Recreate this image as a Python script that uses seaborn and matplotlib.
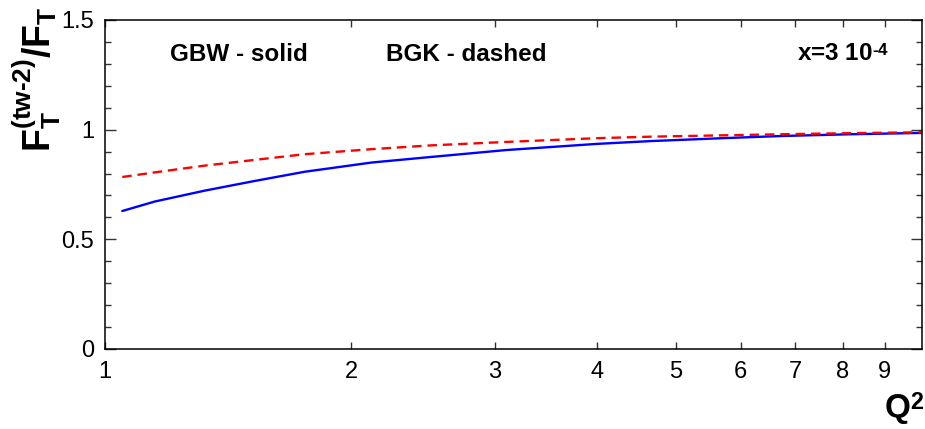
import numpy as np
import pandas as pd
import seaborn as sns
import matplotlib.pyplot as plt
import matplotlib._mathtext as mathtext
from matplotlib.ticker import FixedLocator, MultipleLocator, NullFormatter

# values
q2 = [1.05, 1.15, 1.325, 1.525, 1.756, 2.12, 2.5, 3.1, 4.0, 4.67, 5.7, 6.74, 8.2, 10.0]
gbw = [0.629, 0.672, 0.722, 0.766, 0.808, 0.850, 0.875, 0.907, 0.935, 0.948,
       0.961, 0.971, 0.979, 0.985]
bgk = [0.784, 0.805, 0.836, 0.862, 0.888, 0.911, 0.928, 0.944, 0.961, 0.968,
       0.974, 0.979, 0.984, 0.988]

sns.set_style("ticks", {"axes.edgecolor": "black", "text.color": "black",
                        "xtick.color": "black", "ytick.color": "black"})
plt.rcParams['font.family'] = ['Liberation Sans', 'DejaVu Sans']
plt.rcParams['mathtext.fontset'] = 'custom'
plt.rcParams['mathtext.rm'] = 'Liberation Sans:bold'
plt.rcParams['mathtext.bf'] = 'Liberation Sans:bold'
plt.rcParams['mathtext.it'] = 'Liberation Sans:bold'
plt.rcParams['mathtext.default'] = 'bf'
# superscripts sit lower in the original (ROOT style)
mathtext.FontConstantsBase.sup1 = 0.45

df = pd.DataFrame({"Q2": q2, "GBW": gbw, "BGK": bgk})

fig = plt.figure(figsize=(9.25, 4.29), dpi=100)
ax = fig.add_axes([0.1135, 0.1865, 0.8833, 0.767])

sns.lineplot(data=df, x="Q2", y="GBW", ax=ax, color="#0000ff", lw=1.7)
sns.lineplot(data=df, x="Q2", y="BGK", ax=ax, color="#ff0000", lw=1.7)
ax.lines[-1].set_dashes((4, 2.5))

ax.set_xscale("log")
ax.set_xlim(1, 10)
ax.set_ylim(0, 1.5)

ax.xaxis.set_major_locator(FixedLocator([1, 2, 3, 4, 5, 6, 7, 8, 9]))
ax.xaxis.set_minor_locator(FixedLocator([]))
ax.set_xticklabels(["1", "2", "3", "4", "5", "6", "7", "8", "9"])
ax.xaxis.set_minor_formatter(NullFormatter())
ax.yaxis.set_major_locator(FixedLocator([0, 0.5, 1, 1.5]))
ax.set_yticklabels(["0", "0.5", "1", "1.5"])
ax.yaxis.set_minor_locator(MultipleLocator(0.1))

ax.tick_params(axis="both", which="both", direction="in", top=True, right=True,
               labelsize=17, width=1.0, color="#333333", labelcolor="black")
ax.tick_params(axis="x", which="major", length=5, pad=9)
ax.tick_params(axis="y", which="major", length=8, pad=8)
ax.tick_params(axis="y", which="minor", length=4)
for s in ax.spines.values():
    s.set_linewidth(1.1)
    s.set_color("black")

ax.set_xlabel("")
ax.set_ylabel("")

fig.text(0.040, 0.985, r"$F_T^{(tw\text{-}2)}/F_T$", rotation=90,
         ha="center", va="top", fontsize=27, color="black")
fig.text(0.999, 0.026, r"$Q^2$", ha="right", va="baseline", fontsize=24,
         color="black")

ax.text(0.0796, 0.894, "GBW - solid", transform=ax.transAxes, fontsize=17.5,
        fontweight="bold", va="center", ha="left", color="black")
ax.text(0.344, 0.894, "BGK - dashed", transform=ax.transAxes, fontsize=17.5,
        fontweight="bold", va="center", ha="left", color="black")
ax.text(0.847, 0.894, r"x=3 10$^{\text{-}4}$", transform=ax.transAxes,
        fontsize=17.5, fontweight="bold", va="center", ha="left", color="black")

fig.savefig("out.png", dpi=100)
